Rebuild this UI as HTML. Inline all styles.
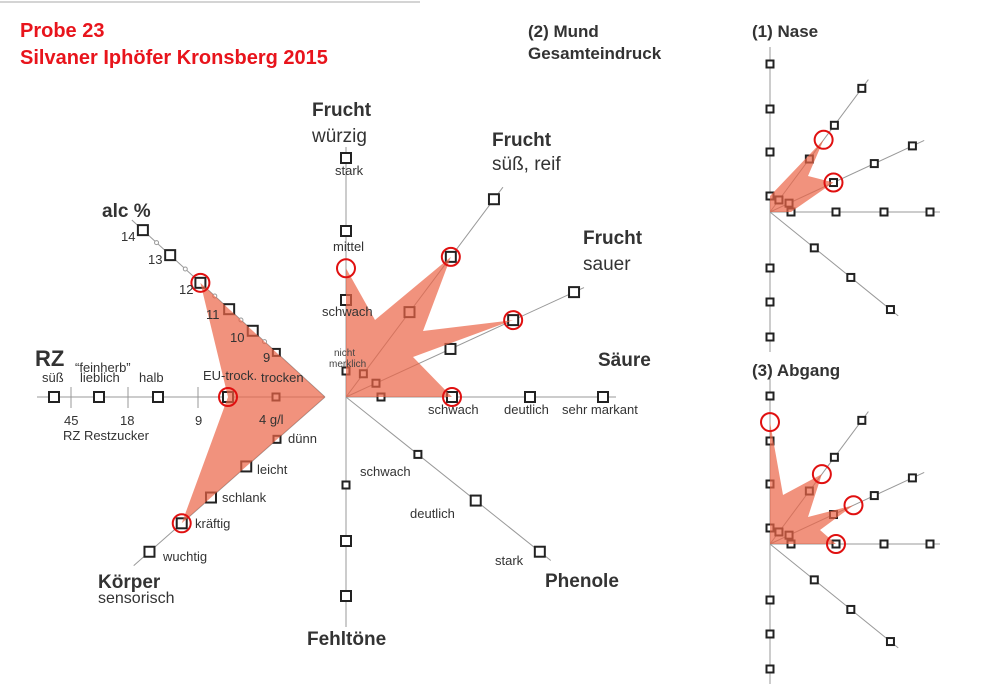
<!DOCTYPE html>
<html><head><meta charset="utf-8">
<style>
body{margin:0;background:#fff}
svg{display:block;font-family:"Liberation Sans",sans-serif}
.b{font-weight:bold;fill:#333}
.s{font-size:13px;fill:#333}
</style></head>
<body>
<svg id="c" width="1000" height="693" viewBox="0 0 1000 693">
<line x1="0" y1="2" x2="420" y2="2" stroke="#aaa" stroke-width="1"/>
<text x="20" y="37" font-size="20" font-weight="bold" fill="#e8141c">Probe 23</text>
<text x="20" y="64" font-size="20" font-weight="bold" fill="#e8141c">Silvaner Iphöfer Kronsberg 2015</text>
<text x="528" y="37" font-size="17" class="b">(2) Mund</text>
<text x="528" y="59" font-size="17" class="b">Gesamteindruck</text>
<text x="752" y="37" font-size="17" class="b">(1) Nase</text>
<text x="752" y="376" font-size="17" class="b">(3) Abgang</text>
<g id="g"></g>
<g font-size="19">
<text x="312" y="116" class="b">Frucht</text><text x="312" y="142" fill="#333">würzig</text>
<text x="492" y="146" class="b">Frucht</text><text x="492" y="170" fill="#333">süß, reif</text>
<text x="583" y="244" class="b">Frucht</text><text x="583" y="270" fill="#333">sauer</text>
<text x="598" y="366" class="b">Säure</text>
<text x="545" y="587" class="b">Phenole</text>
<text x="307" y="645" class="b">Fehltöne</text>
<text x="102" y="217" class="b">alc %</text>
<text x="35" y="366" class="b" font-size="22">RZ</text>
<text x="98" y="588" class="b">Körper</text><text x="98" y="603" fill="#333" font-size="16">sensorisch</text>
</g>
<g>
<text class="s" x="335" y="175">stark</text><text class="s" x="333" y="251">mittel</text>
<text class="s" x="322" y="316">schwach</text>
<text x="334" y="356" font-size="10" fill="#444">nicht</text><text x="329" y="367" font-size="10" fill="#444">merklich</text>
<text class="s" x="428" y="414">schwach</text><text class="s" x="504" y="414">deutlich</text><text class="s" x="562" y="414">sehr markant</text>
<text class="s" x="360" y="476">schwach</text><text class="s" x="410" y="518">deutlich</text><text class="s" x="495" y="565">stark</text>
<text class="s" x="42" y="382">süß</text><text class="s" x="75" y="372">“feinherb”</text><text class="s" x="80" y="382">lieblich</text>
<text class="s" x="139" y="382">halb</text><text class="s" x="203" y="380">EU-trock.</text><text class="s" x="261" y="382">trocken</text>
<text class="s" x="64" y="425">45</text><text class="s" x="120" y="425">18</text><text class="s" x="195" y="425">9</text><text class="s" x="259" y="424">4 g/l</text>
<text class="s" x="63" y="440">RZ Restzucker</text>
<text class="s" x="288" y="443">dünn</text><text class="s" x="257" y="474">leicht</text><text class="s" x="222" y="502">schlank</text>
<text class="s" x="195" y="528">kräftig</text><text class="s" x="163" y="561">wuchtig</text>
<text class="s" x="121" y="241">14</text><text class="s" x="148" y="264">13</text><text class="s" x="179" y="294">12</text>
<text class="s" x="206" y="319">11</text><text class="s" x="230" y="342">10</text><text class="s" x="263" y="362">9</text>
</g>
</svg>
<script>
// data: scores (in tick-index units, 0 = centre)
const mundAxes = ["würzig","süß-reif","sauer","säure"];
const mundScores = [2.46, 3, 3, 2];
const leftAxes = ["alc","rz","koerper"];
const alcValue = [12];
const rzScore = [2];
const koerperScore = [4];
const naseScores = [1, 2.57, 2, 1];
const abgangScores = [3.42, 2.5, 2.49, 2];

const NS="http://www.w3.org/2000/svg", G=document.getElementById('g');
function mk(t,a,name){const e=document.createElementNS(NS,t);for(const k in a)e.setAttribute(k,a[k]);


G.appendChild(e);return e;}
function pt(c,ang,r){const a=ang*Math.PI/180;return [c[0]+r*Math.cos(a),c[1]-r*Math.sin(a)];}
function rad(ticks,v){const t=[0].concat(ticks);const i=Math.min(Math.floor(v),t.length-2);return t[i]+(t[i+1]-t[i])*(v-i);}
function axis(c,ang,ticks,len,sz,name){
  const e=pt(c,ang,len);mk('line',{x1:c[0],y1:c[1],x2:e[0],y2:e[1],stroke:'#999','stroke-width':1},name+'-axis');
}
function squares(c,ang,ticks,sz,name){ticks.forEach((r,i)=>{const p=pt(c,ang,r);const s=(i==0&&sz>8)?7:sz;
  mk('rect',{x:p[0]-s/2,y:p[1]-s/2,width:s,height:s,fill:'#fff',stroke:'#222','stroke-width':2},name+'-tick');});}
function poly(pts,name){mk('polygon',{points:pts.map(p=>p.join(',')).join(' '),fill:'rgba(235,100,70,0.7)'},name);}
function circ(p,r,name){mk('circle',{cx:p[0],cy:p[1],r:r,fill:'none',stroke:'#e01010','stroke-width':2},name);}

// ---- Mund chart
const MC=[346,397];
const M=[[90,[26,97,166,239],250],[53.2,[29,106,175,247],262],[24.7,[33,115,184,251],262],[0,[35,106,184,257],270],
         [-38.6,[92,166,248],262],[-90,[88,144,199],230]];
M.forEach((a,i)=>axis(MC,a[0],a[1],a[2],10,'mund-'+i));
M.forEach((a,i)=>squares(MC,a[0],a[1],10,'mund-'+i));
const mp=mundScores.map((v,i)=>pt(MC,M[i][0],rad(M[i][1],v)));
poly([mp[0],[375,320],mp[1],[423,331],mp[2],[413,357],mp[3],MC],'mund-profile');
mp.forEach((p,i)=>circ(p,9,'mund-marker-'+mundAxes[i]));

// ---- Left chart (alc / RZ / Körper), apex at (325,397)
const LC=[325,397];
const alcTicks=[66,98,130,169,210,247], rzTicks=[49,97,167,226,271], kTicks=[64,105,152,191,234];
axis(LC,137.5,alcTicks,262,10,'alc');axis(LC,180,rzTicks,288,10,'rz');axis(LC,221.4,kTicks,255,10,'koerper');
[71,128,198].forEach(x=>mk('line',{x1:x,y1:387,x2:x,y2:408,stroke:'#999'},'rz-scale-tick'));
for(let k=0;k<5;k++){const p=pt(LC,137.5,(alcTicks[k]+alcTicks[k+1])/2);mk('circle',{cx:p[0],cy:p[1],r:2,fill:'#fff',stroke:'#999'},'alc-half-tick');}
squares(LC,137.5,alcTicks,10,'alc');squares(LC,180,rzTicks.map(x=>x),10,'rz');squares(LC,221.4,kTicks,10,'koerper');
const ap=pt(LC,137.5,rad(alcTicks,alcValue[0]-8)), rp=pt(LC,180,rad(rzTicks,rzScore[0])), kp=pt(LC,221.4,rad(kTicks,koerperScore[0]));
poly([ap,LC,kp,rp],'left-profile');
circ(ap,9,'marker-alc');circ(rp,9,'marker-rz');circ(kp,9,'marker-koerper');

// ---- small charts
const S=[[90,[16,60,103,148],165],[53.4,[15,66,108,154],165],[24.9,[21,70,115,157],170],[0,[21,66,114,160],170],
         [-39,[57,104,155],165],[-90,[56,90,125],140]];
function small(C,scores,notches,name){
  S.forEach((a,i)=>axis(C,a[0],a[1],a[2],7,name+'-'+i));
  S.forEach((a,i)=>squares(C,a[0],a[1],7,name+'-'+i));
  const p=scores.map((v,i)=>pt(C,S[i][0],rad(S[i][1],v)));
  const pts=[p[0]];for(let i=1;i<4;i++){if(notches[i-1])pts.push(notches[i-1]);pts.push(p[i]);}pts.push(C);
  poly(pts,name+'-profile');
  return p;
}
const np=small([770,212],naseScores,[null,[808,176],null],'nase');
circ(np[1],9,'nase-marker-1');circ(np[2],9,'nase-marker-2');
const gp=small([770,544],abgangScores,[[783,495],[808,517],[820,530]],'abgang');
gp.forEach((p,i)=>circ(p,9,'abgang-marker-'+i));
</script>
</body></html>
